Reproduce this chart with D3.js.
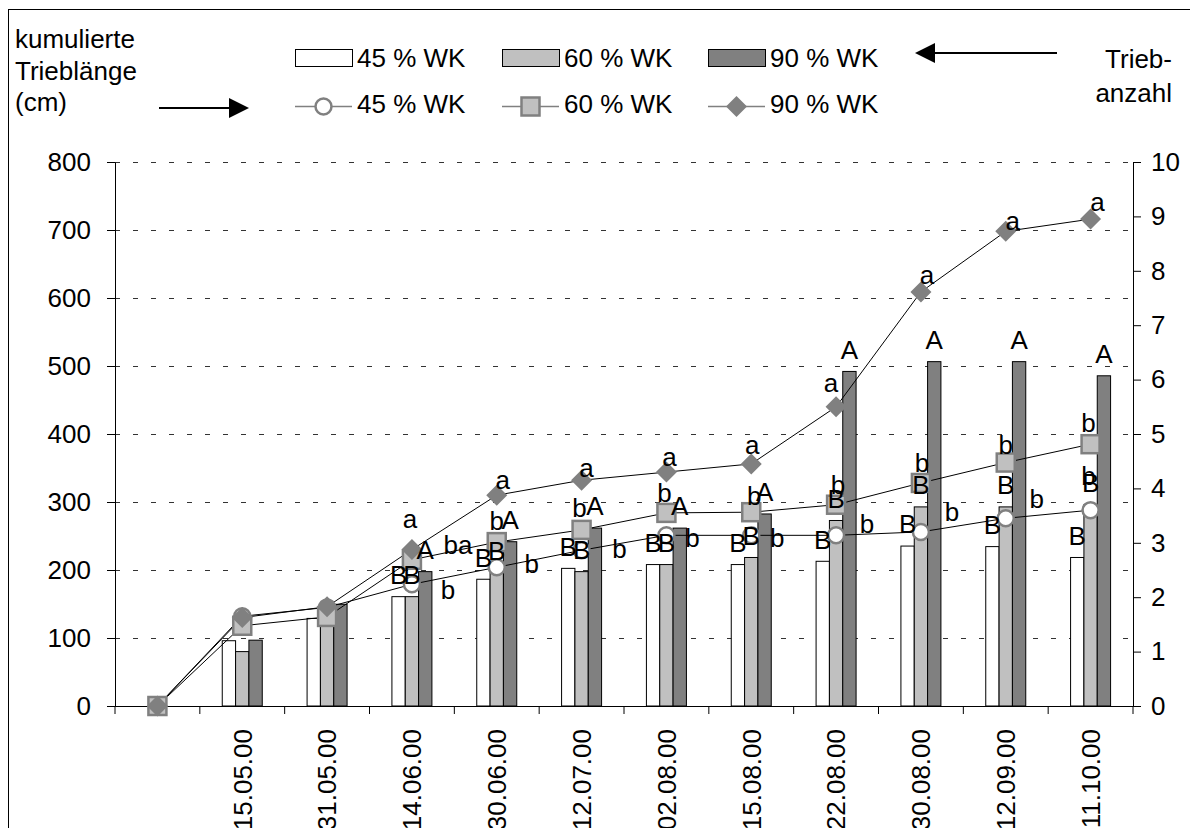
<!DOCTYPE html>
<html><head><meta charset="utf-8">
<script src="https://cdn.jsdelivr.net/npm/d3@7/dist/d3.min.js"></script>
<style>
body{margin:0;background:#fff;}
text{font-family:"Liberation Sans",Arial,sans-serif;font-size:26px;fill:#000;}
</style>
</head><body>
<svg id="chart" width="1190" height="828"></svg>
<script>
// ---------- DATA ----------
const categories = ["", "15.05.00", "31.05.00", "14.06.00", "30.06.00", "12.07.00", "02.08.00", "15.08.00", "22.08.00", "30.08.00", "12.09.00", "11.10.00"];
const seriesNames = ["45 % WK", "60 % WK", "90 % WK"];
// Triebanzahl (bars, right axis)
const bars45 = [null, 1.20, 1.61, 2.01, 2.33, 2.53, 2.60, 2.60, 2.66, 2.94, 2.93, 2.73];
const bars60 = [null, 1.00, 1.58, 2.01, 2.45, 2.47, 2.60, 2.73, 3.41, 3.66, 3.66, 3.70];
const bars90 = [null, 1.21, 1.87, 2.47, 3.02, 3.27, 3.27, 3.53, 6.15, 6.33, 6.33, 6.07];
// kumulierte Trieblänge (lines, left axis)
const line45 = [0, 132, 145, 179, 204, 229, 251, 251, 251, 256, 276, 288];
const line60 = [0, 118, 131, 215, 241, 259, 284, 285, 296, 328, 358, 385];
const line90 = [0, 130, 146, 230, 310, 332, 344, 356, 440, 609, 698, 716];
// significance letters
const barLetters45 = ["", "", "", "B", "B", "B", "B", "B", "B", "B", "B", "B"];
const barLetters60 = ["", "", "", "B", "B", "B", "B", "B", "B", "B", "B", "B"];
const barLetters90 = ["", "", "", "A", "A", "A", "A", "A", "A", "A", "A", "A"];
const lineLetters45 = ["", "", "", "b", "b", "b", "b", "b", "b", "b", "b", "b"];
const lineLetters60 = ["", "", "", "ba", "b", "b", "b", "b", "b", "b", "b", "b"];
const lineLetters90 = ["", "", "", "a", "a", "a", "a", "a", "a", "a", "a", "a"];
const leftTicks = [0, 100, 200, 300, 400, 500, 600, 700, 800];
const rightTicks = [0, 1, 2, 3, 4, 5, 6, 7, 8, 9, 10];

// ---------- STYLE / PLACEMENT ----------
const barFills = ["#ffffff", "#c0c0c0", "#808080"];
const markerGray = "#808080";
const off45 = [[0,0],[0,0],[0,0],[36,5],[35,-4],[38,-2],[26,2],[26,2],[31,-12],[31,-20],[31,-20],[-2,-35]];
const off60 = [[0,0],[0,0],[0,0],[46,-15],[0,-21],[-2,-22],[-2,-20],[3,-17],[2,-20],[1,-20],[0,-18],[-2,-22]];
const off90 = [[0,0],[0,0],[0,0],[-2,-31],[6,-16],[5,-13],[3,-15],[1,-19],[-5,-24],[6,-17],[7,-11],[7,-17]];

const svg = d3.select("#chart");
const L = 115, R = 1133, T = 162, B = 706;

const x = d3.scaleBand().domain(d3.range(categories.length)).range([L, R]).padding(0);
const xs = d3.scaleBand().domain([0, 1, 2]).range([-20, 20]).padding(0);
const yL = d3.scaleLinear().domain([0, 800]).range([B, T]);
const yR = d3.scaleLinear().domain([0, 10]).range([B, T]);
const cx = i => x(i) + x.bandwidth() / 2;

// outer frame
svg.append("rect").attr("x", 8.5).attr("y", 9.5).attr("width", 1300).attr("height", 1000)
  .attr("fill", "none").attr("stroke", "#000").attr("stroke-width", 1);

// gridlines
svg.append("g").selectAll("line").data(leftTicks.filter(d => d > 0)).join("line")
  .attr("x1", L).attr("x2", R).attr("y1", d => yL(d) + 0.5).attr("y2", d => yL(d) + 0.5)
  .attr("stroke", "#333").attr("stroke-width", 1).attr("stroke-dasharray", "5,13");

// bars
const barSets = [bars45, bars60, bars90];
barSets.forEach((arr, s) => {
  svg.append("g").selectAll("rect").data(arr.map((v, i) => ({v, i})).filter(d => d.v != null)).join("rect")
    .attr("x", d => cx(d.i) + xs(s))
    .attr("y", d => yR(d.v))
    .attr("width", xs.bandwidth())
    .attr("height", d => yR(0) - yR(d.v))
    .attr("fill", barFills[s]).attr("stroke", "#000").attr("stroke-width", 1);
});

// axes
const gl = svg.append("g").attr("transform", `translate(${L},0)`)
  .call(d3.axisLeft(yL).tickValues(leftTicks).tickSize(8).tickSizeOuter(0).tickPadding(16));
const gr = svg.append("g").attr("transform", `translate(${R},0)`)
  .call(d3.axisRight(yR).tickValues(rightTicks).tickSize(8).tickSizeOuter(0).tickPadding(10));
[gl, gr].forEach(g => {
  g.selectAll("text").style("font-size", "26px").style("font-family", '"Liberation Sans",Arial,sans-serif').attr("fill", "#000");
  g.selectAll("line,path").attr("stroke", "#000");
});
// x axis line
svg.append("line").attr("x1", L - 8).attr("x2", R).attr("y1", B + 0.5).attr("y2", B + 0.5).attr("stroke", "#000");
// boundary ticks
svg.append("g").selectAll("line").data(d3.range(categories.length + 1)).join("line")
  .attr("x1", i => x.range()[0] + i * x.step()).attr("x2", i => x.range()[0] + i * x.step())
  .attr("y1", B).attr("y2", B + 8).attr("stroke", "#000");
// x labels
svg.append("g").selectAll("text").data(categories.map((c, i) => ({c, i}))).join("text")
  .attr("transform", d => `translate(${cx(d.i)},729) rotate(-90)`)
  .attr("text-anchor", "end").attr("dy", "0.36em").text(d => d.c);

// lines
const lineSets = [line45, line60, line90];
const lineGen = d3.line().x((d, i) => cx(i)).y(d => yL(d));
lineSets.forEach(arr => {
  svg.append("path").attr("d", lineGen(arr)).attr("fill", "none").attr("stroke", "#000").attr("stroke-width", 1);
});

function marker(g, s, px, py) {
  if (s === 0) {
    g.append("circle").attr("cx", px).attr("cy", py).attr("r", 8)
      .attr("fill", "#fff").attr("stroke", markerGray).attr("stroke-width", 2.5);
  } else if (s === 1) {
    g.append("rect").attr("x", px - 9).attr("y", py - 9).attr("width", 18).attr("height", 18)
      .attr("fill", "#c0c0c0").attr("stroke", markerGray).attr("stroke-width", 2.5);
  } else {
    g.append("path").attr("d", `M${px},${py - 10.5}L${px + 10.5},${py}L${px},${py + 10.5}L${px - 10.5},${py}Z`)
      .attr("fill", markerGray);
  }
}
lineSets.forEach((arr, s) => {
  const g = svg.append("g");
  arr.forEach((v, i) => marker(g, s, cx(i), yL(v)));
});

// bar letters
const barLetterSets = [barLetters45, barLetters60, barLetters90];
barLetterSets.forEach((arr, s) => {
  svg.append("g").selectAll("text").data(arr.map((t, i) => ({t, i})).filter(d => d.t)).join("text")
    .attr("x", d => cx(d.i) + xs(s) + xs.bandwidth() / 2)
    .attr("y", d => yR(barSets[s][d.i]) - 22)
    .attr("dy", "0.36em").attr("text-anchor", "middle").text(d => d.t);
});
// line letters
const lineLetterSets = [lineLetters45, lineLetters60, lineLetters90];
const offs = [off45, off60, off90];
lineLetterSets.forEach((arr, s) => {
  svg.append("g").selectAll("text").data(arr.map((t, i) => ({t, i})).filter(d => d.t)).join("text")
    .attr("x", d => cx(d.i) + offs[s][d.i][0])
    .attr("y", d => yL(lineSets[s][d.i]) + offs[s][d.i][1])
    .attr("dy", "0.36em").attr("text-anchor", "middle").text(d => d.t);
});

// legend
const legX = [295, 502, 708];
seriesNames.forEach((n, s) => {
  const g = svg.append("g");
  g.append("rect").attr("x", legX[s] + 0.5).attr("y", 49.5).attr("width", 57).attr("height", 17)
    .attr("fill", barFills[s]).attr("stroke", "#000");
  g.append("text").attr("x", legX[s] + 62).attr("y", 67).text(n);
  g.append("line").attr("x1", legX[s]).attr("x2", legX[s] + 57).attr("y1", 106.5).attr("y2", 106.5)
    .attr("stroke", markerGray).attr("stroke-width", 1.5);
  marker(g, s, legX[s] + 28.5, 106.5);
  g.append("text").attr("x", legX[s] + 62).attr("y", 113).text(n);
});

// axis titles
const tl = svg.append("g");
["kumulierte", "Trieblänge", "(cm)"].forEach((t, i) => tl.append("text").attr("x", 15).attr("y", 48 + i * 31.5).text(t));
["Trieb-", "anzahl"].forEach((t, i) => tl.append("text").attr("x", 1172).attr("y", 68 + i * 34).attr("text-anchor", "end").text(t));

// arrows
function arrow(x1, x2, y) {
  const dir = Math.sign(x2 - x1);
  svg.append("line").attr("x1", x1).attr("x2", x2 - dir * 18).attr("y1", y).attr("y2", y)
    .attr("stroke", "#000").attr("stroke-width", 2);
  svg.append("path").attr("d", `M${x2},${y}L${x2 - dir * 20},${y - 10}L${x2 - dir * 20},${y + 10}Z`).attr("fill", "#000");
}
arrow(159, 249, 108);
arrow(1057, 915, 53);
</script>
</body></html>
